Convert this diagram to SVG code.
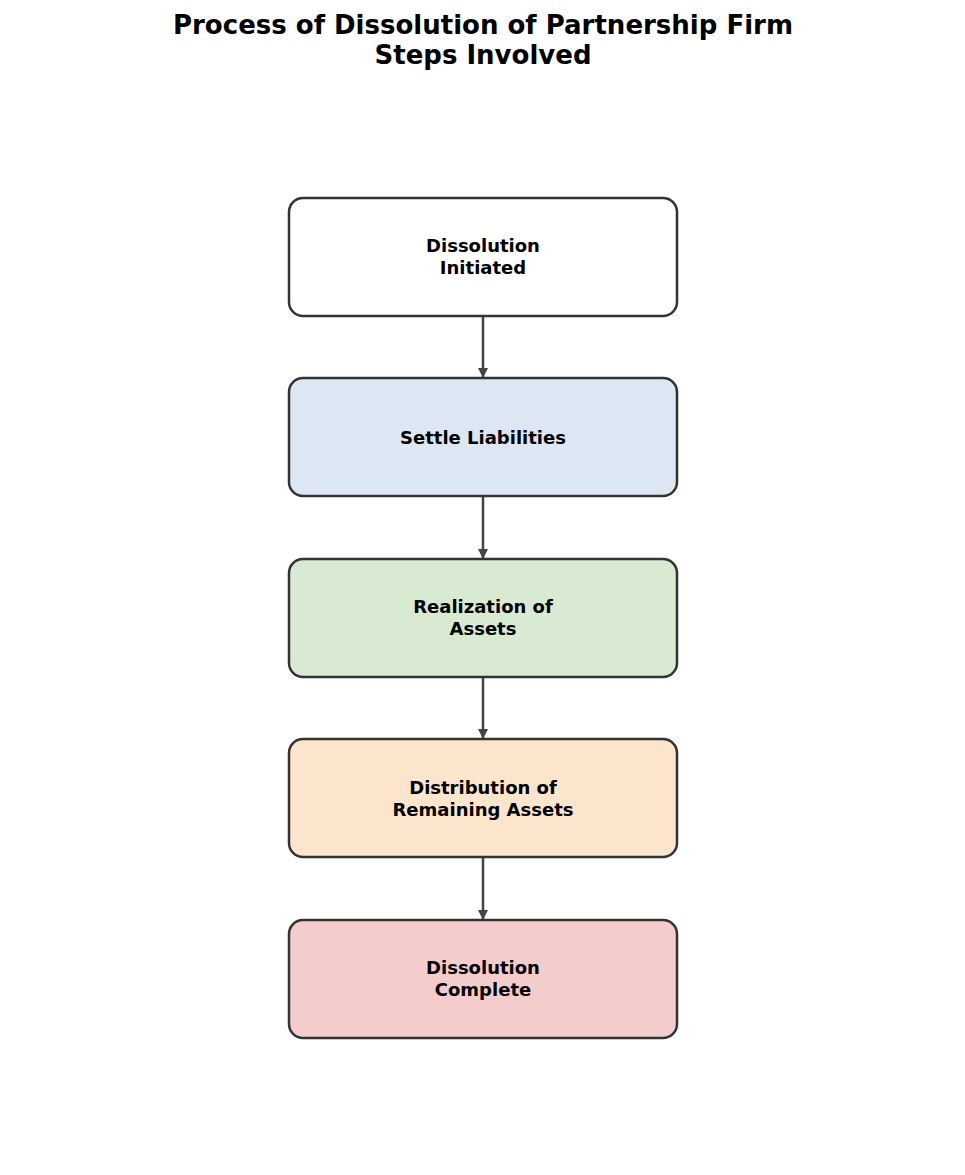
<svg xmlns="http://www.w3.org/2000/svg" width="965" height="1175" viewBox="0 0 965 1175">
<style>
.n{stroke:#333;stroke-width:2.5}
.t{font-family:"DejaVu Sans",sans-serif;font-weight:bold;font-size:18px;text-anchor:middle;fill:#000}
.h{font-family:"DejaVu Sans",sans-serif;font-weight:bold;font-size:26px;text-anchor:middle;fill:#000}
.c{stroke:#444;stroke-width:2.5;fill:none}
</style>
<defs><marker id="a" markerWidth="10" markerHeight="10" refX="9" refY="5" orient="auto" markerUnits="userSpaceOnUse"><path d="M0,0 L10,5 L0,10 z" fill="#444"/></marker></defs>
<rect width="965" height="1175" fill="#fff"/>
<text class="h" x="483" y="34">Process of Dissolution of Partnership Firm</text>
<text class="h" x="483" y="64">Steps Involved</text>
<g id="connectors">
<line class="c" x1="483" y1="317" x2="483" y2="377" marker-end="url(#a)"/>
<line class="c" x1="483" y1="497" x2="483" y2="558" marker-end="url(#a)"/>
<line class="c" x1="483" y1="678" x2="483" y2="738" marker-end="url(#a)"/>
<line class="c" x1="483" y1="858" x2="483" y2="919" marker-end="url(#a)"/>
</g>
<g id="n1"><rect class="n" x="289" y="198" width="388" height="118" rx="14" fill="#fff"/><text class="t" x="483" y="252">Dissolution</text><text class="t" x="483" y="274">Initiated</text></g>
<g id="n2"><rect class="n" x="289" y="378" width="388" height="118" rx="14" fill="#dce7f3"/><text class="t" x="483" y="444">Settle Liabilities</text></g>
<g id="n3"><rect class="n" x="289" y="559" width="388" height="118" rx="14" fill="#d9ead3"/><text class="t" x="483" y="613">Realization of</text><text class="t" x="483" y="635">Assets</text></g>
<g id="n4"><rect class="n" x="289" y="739" width="388" height="118" rx="14" fill="#fce5cd"/><text class="t" x="483" y="794">Distribution of</text><text class="t" x="483" y="816">Remaining Assets</text></g>
<g id="n5"><rect class="n" x="289" y="920" width="388" height="118" rx="14" fill="#f4cccc"/><text class="t" x="483" y="974">Dissolution</text><text class="t" x="483" y="996">Complete</text></g>
</svg>
